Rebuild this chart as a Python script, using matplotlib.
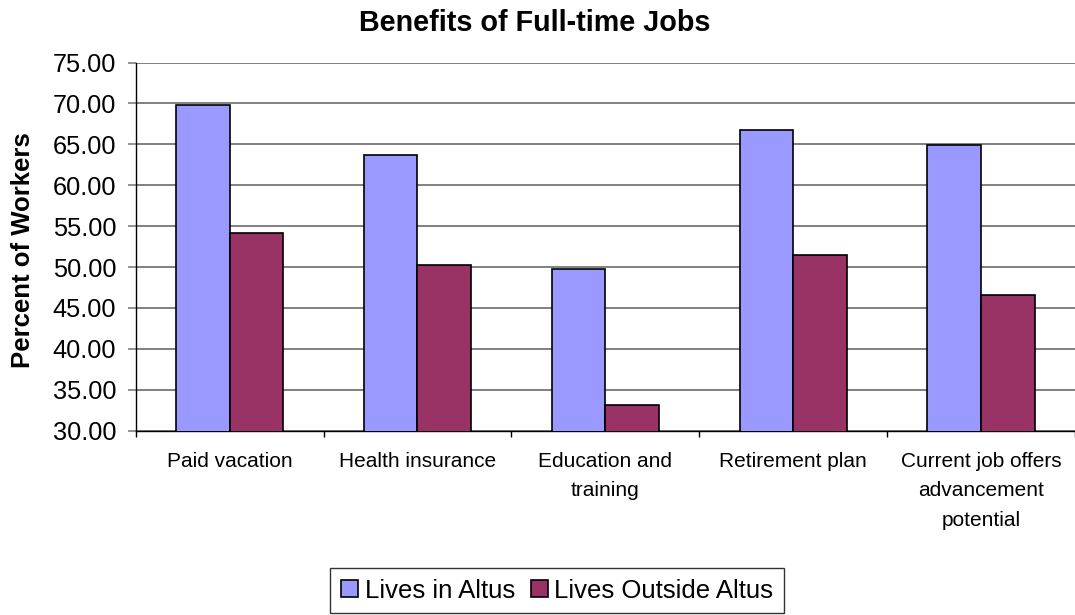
import matplotlib
matplotlib.use('Agg')
import matplotlib.pyplot as plt
import numpy as np

categories = ["Paid vacation", "Health insurance", "Education and\ntraining",
              "Retirement plan", "Current job offers\nadvancement\npotential"]
lives_in_altus = [69.8, 63.7, 49.8, 66.7, 64.9]
lives_outside_altus = [54.2, 50.2, 33.1, 51.5, 46.6]
series_names = ["Lives in Altus", "Lives Outside Altus"]
yticks = [30, 35, 40, 45, 50, 55, 60, 65, 70, 75]

plt.rcParams['font.family'] = ['Liberation Sans', 'DejaVu Sans']

W, H = 1075, 615
fig = plt.figure(figsize=(W / 100, H / 100), dpi=100)
ax = fig.add_axes([135.7 / W, 1 - 430.7 / H, (1075 - 135.7) / W, (430.7 - 62.5) / H])

x = np.arange(len(categories))
w = 1 / 3.5
b1 = ax.bar(x - w / 2, lives_in_altus, w, color='#9999FF', edgecolor='black',
            linewidth=1.2, zorder=3, label=series_names[0])
b2 = ax.bar(x + w / 2, lives_outside_altus, w, color='#993366', edgecolor='black',
            linewidth=1.2, zorder=3, label=series_names[1])

ax.set_xlim(-0.5, len(categories) - 0.5)
ax.set_ylim(30, 75)
ax.set_yticks(yticks)
ax.set_yticklabels([f"{v:.2f}" for v in yticks], fontsize=18.3)
ax.yaxis.grid(True, color='#808080', linewidth=1.4, zorder=0)
ax.set_axisbelow(True)

ax.set_xticks(x)
ax.set_xticklabels(categories, fontsize=15, linespacing=1.72)
ax.set_xticks(np.arange(len(categories) + 1) - 0.5, minor=True)
ax.tick_params(axis='x', which='major', length=0, pad=15)
ax.tick_params(axis='x', which='minor', length=4.5, width=1, color='black', direction='out')
ax.tick_params(axis='y', which='major', length=6, width=1.2, color='#808080', pad=8)

for s in ['top', 'right']:
    ax.spines[s].set_visible(False)
ax.spines['left'].set_color('black')
ax.spines['left'].set_linewidth(1)
ax.spines['bottom'].set_color('black')
ax.spines['bottom'].set_linewidth(1)

fig.text(535 / W, 1 - 31 / H, "Benefits of Full-time Jobs", ha='center', va='baseline',
         fontsize=20.7, fontweight='bold')
fig.text(22.6 / W, 1 - 250 / H, "Percent of Workers", rotation=90, ha='center', va='center',
         fontsize=18.5, fontweight='bold')

leg = fig.legend(handles=[b1, b2], labels=series_names, loc='center',
                 bbox_to_anchor=(557.2 / W, 1 - 590.5 / H), ncol=2, fontsize=18.5,
                 frameon=True, fancybox=False, shadow=False, borderpad=0.42,
                 handlelength=0.67, handleheight=0.67, handletextpad=0.25,
                 columnspacing=0.6)
leg.get_frame().set_edgecolor('black')
leg.get_frame().set_linewidth(1)

fig.savefig('out.png', dpi=100)
